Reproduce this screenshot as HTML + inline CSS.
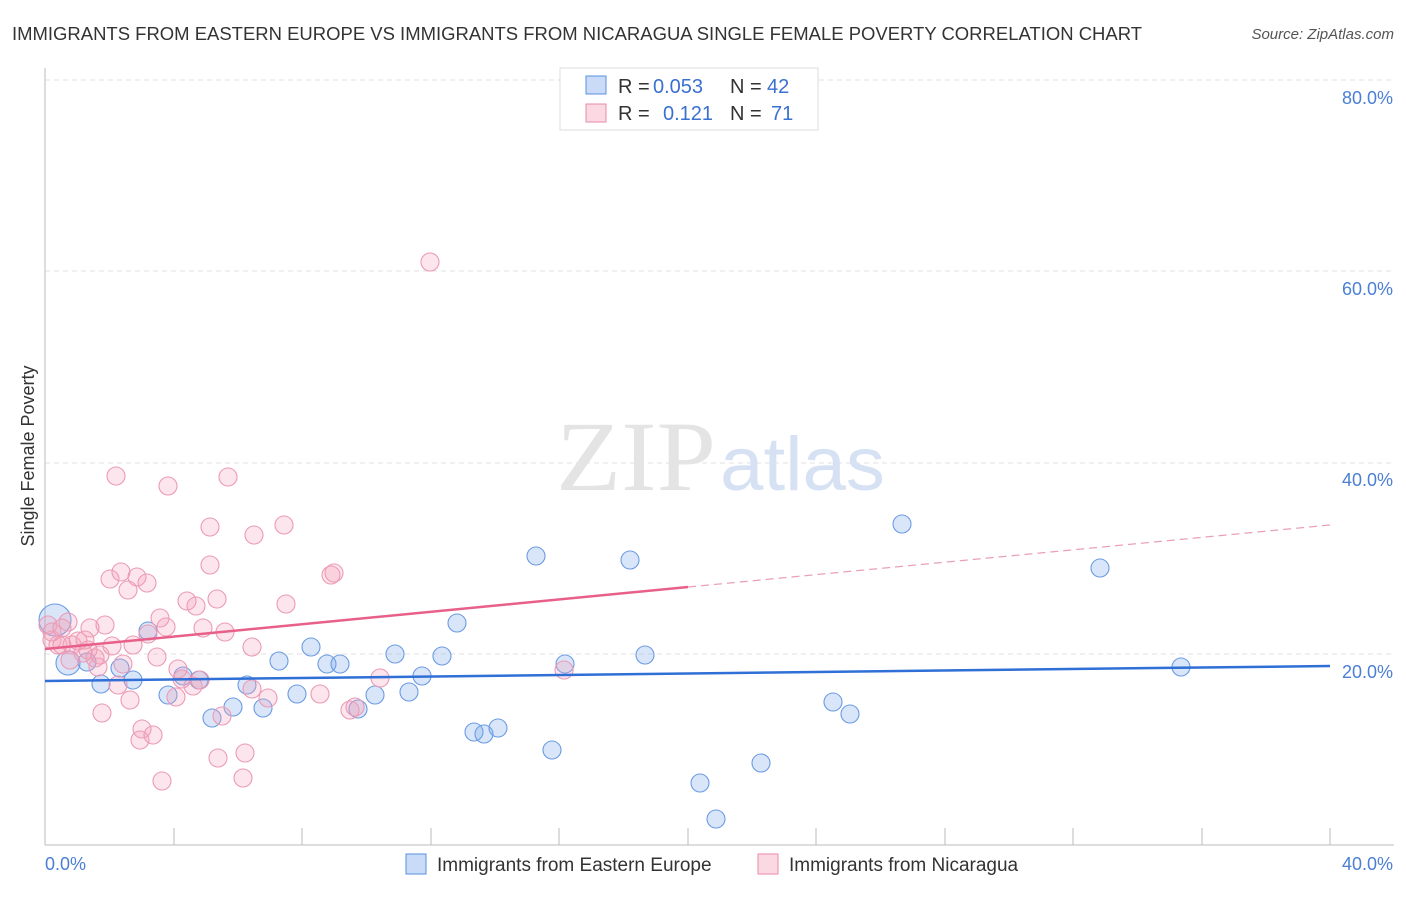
<!DOCTYPE html><html><head><style>body{margin:0;background:#fff;font-family:"Liberation Sans",sans-serif}</style></head><body>
<svg width="1406" height="892" xmlns="http://www.w3.org/2000/svg" font-family="Liberation Sans, sans-serif">
<text x="12" y="40" font-size="18" fill="#333" textLength="1130" lengthAdjust="spacingAndGlyphs">IMMIGRANTS FROM EASTERN EUROPE VS IMMIGRANTS FROM NICARAGUA SINGLE FEMALE POVERTY CORRELATION CHART</text>
<text x="1394" y="39" font-size="15" fill="#555" text-anchor="end" font-style="italic">Source: ZipAtlas.com</text>
<g stroke="#e2e2e2" stroke-dasharray="5,4"><line x1="45" y1="80" x2="1394" y2="80"/><line x1="45" y1="271" x2="1394" y2="271"/><line x1="45" y1="463" x2="1394" y2="463"/><line x1="45" y1="654" x2="1394" y2="654"/></g>
<line x1="45" y1="68" x2="45" y2="845" stroke="#bbb"/><line x1="45" y1="845" x2="1394" y2="845" stroke="#bbb"/>
<g stroke="#bbb"><line x1="174" y1="828" x2="174" y2="845"/><line x1="302" y1="828" x2="302" y2="845"/><line x1="431" y1="828" x2="431" y2="845"/><line x1="559" y1="828" x2="559" y2="845"/><line x1="688" y1="828" x2="688" y2="845"/><line x1="816" y1="828" x2="816" y2="845"/><line x1="945" y1="828" x2="945" y2="845"/><line x1="1073" y1="828" x2="1073" y2="845"/><line x1="1202" y1="828" x2="1202" y2="845"/><line x1="1330" y1="828" x2="1330" y2="845"/></g>
<g font-size="18" fill="#4a7fd4" text-anchor="end"><text x="1393" y="104">80.0%</text><text x="1393" y="295">60.0%</text><text x="1393" y="486">40.0%</text><text x="1393" y="678">20.0%</text><text x="1393" y="870">40.0%</text></g>
<text x="45" y="870" font-size="18" fill="#4a7fd4">0.0%</text>
<text x="34" y="456" font-size="18" fill="#333" transform="rotate(-90 34 456)" text-anchor="middle">Single Female Poverty</text>
<text x="716" y="490" font-size="100" fill="#e4e4e4" text-anchor="end" font-family="Liberation Serif, serif" textLength="160" lengthAdjust="spacingAndGlyphs">ZIP</text><text x="720" y="490" font-size="76" fill="#d6e2f4" textLength="165" lengthAdjust="spacingAndGlyphs">atlas</text>
<g fill="rgba(120,165,235,0.28)" stroke="#6b9be3" stroke-width="1.1">
<circle cx="55" cy="620" r="16"/><circle cx="68" cy="663" r="12"/><circle cx="87" cy="662" r="9"/><circle cx="101" cy="684" r="9"/><circle cx="120" cy="668" r="9"/><circle cx="133" cy="680" r="9"/><circle cx="148" cy="631" r="9"/><circle cx="168" cy="695" r="9"/><circle cx="183" cy="676" r="9"/><circle cx="199" cy="680" r="9"/><circle cx="212" cy="718" r="9"/><circle cx="233" cy="707" r="9"/><circle cx="247" cy="685" r="9"/><circle cx="263" cy="708" r="9"/><circle cx="279" cy="661" r="9"/><circle cx="297" cy="694" r="9"/><circle cx="311" cy="647" r="9"/><circle cx="327" cy="664" r="9"/><circle cx="340" cy="664" r="9"/><circle cx="358" cy="709" r="9"/><circle cx="375" cy="695" r="9"/><circle cx="395" cy="654" r="9"/><circle cx="409" cy="692" r="9"/><circle cx="422" cy="676" r="9"/><circle cx="442" cy="656" r="9"/><circle cx="457" cy="623" r="9"/><circle cx="474" cy="732" r="9"/><circle cx="484" cy="734" r="9"/><circle cx="498" cy="728" r="9"/><circle cx="536" cy="556" r="9"/><circle cx="552" cy="750" r="9"/><circle cx="565" cy="664" r="9"/><circle cx="630" cy="560" r="9"/><circle cx="645" cy="655" r="9"/><circle cx="700" cy="783" r="9"/><circle cx="716" cy="819" r="9"/><circle cx="761" cy="763" r="9"/><circle cx="833" cy="702" r="9"/><circle cx="850" cy="714" r="9"/><circle cx="902" cy="524" r="9"/><circle cx="1100" cy="568" r="9"/><circle cx="1181" cy="667" r="9"/>
</g>
<g fill="rgba(245,160,185,0.28)" stroke="#ec9ab5" stroke-width="1.1">
<circle cx="48" cy="625" r="9"/><circle cx="52" cy="640" r="9"/><circle cx="58" cy="645" r="9"/><circle cx="62" cy="645" r="9"/><circle cx="68" cy="622" r="9"/><circle cx="72" cy="645" r="9"/><circle cx="78" cy="641" r="9"/><circle cx="83" cy="653" r="9"/><circle cx="88" cy="650" r="9"/><circle cx="95" cy="658" r="9"/><circle cx="98" cy="667" r="9"/><circle cx="105" cy="625" r="9"/><circle cx="102" cy="713" r="9"/><circle cx="112" cy="646" r="9"/><circle cx="118" cy="685" r="9"/><circle cx="123" cy="664" r="9"/><circle cx="130" cy="700" r="9"/><circle cx="110" cy="579" r="9"/><circle cx="121" cy="572" r="9"/><circle cx="128" cy="590" r="9"/><circle cx="137" cy="577" r="9"/><circle cx="147" cy="583" r="9"/><circle cx="116" cy="476" r="9"/><circle cx="168" cy="486" r="9"/><circle cx="228" cy="477" r="9"/><circle cx="210" cy="527" r="9"/><circle cx="254" cy="535" r="9"/><circle cx="284" cy="525" r="9"/><circle cx="210" cy="565" r="9"/><circle cx="331" cy="575" r="9"/><circle cx="334" cy="573" r="9"/><circle cx="187" cy="601" r="9"/><circle cx="196" cy="606" r="9"/><circle cx="217" cy="599" r="9"/><circle cx="286" cy="604" r="9"/><circle cx="160" cy="618" r="9"/><circle cx="166" cy="627" r="9"/><circle cx="203" cy="628" r="9"/><circle cx="225" cy="632" r="9"/><circle cx="157" cy="657" r="9"/><circle cx="133" cy="645" r="9"/><circle cx="148" cy="634" r="9"/><circle cx="178" cy="669" r="9"/><circle cx="182" cy="679" r="9"/><circle cx="176" cy="697" r="9"/><circle cx="193" cy="686" r="9"/><circle cx="200" cy="680" r="9"/><circle cx="252" cy="647" r="9"/><circle cx="222" cy="716" r="9"/><circle cx="252" cy="689" r="9"/><circle cx="268" cy="698" r="9"/><circle cx="320" cy="694" r="9"/><circle cx="350" cy="710" r="9"/><circle cx="355" cy="707" r="9"/><circle cx="380" cy="678" r="9"/><circle cx="142" cy="729" r="9"/><circle cx="140" cy="740" r="9"/><circle cx="153" cy="735" r="9"/><circle cx="162" cy="781" r="9"/><circle cx="218" cy="758" r="9"/><circle cx="245" cy="753" r="9"/><circle cx="243" cy="778" r="9"/><circle cx="430" cy="262" r="9"/><circle cx="564" cy="670" r="9"/><circle cx="52" cy="632" r="9"/><circle cx="62" cy="628" r="9"/><circle cx="70" cy="660" r="9"/><circle cx="90" cy="628" r="9"/><circle cx="100" cy="655" r="9"/><circle cx="85" cy="640" r="9"/>
</g>
<line x1="45" y1="681" x2="1330" y2="666" stroke="#2f6fd6" stroke-width="2.5"/>
<line x1="45" y1="649" x2="688" y2="587" stroke="#e8608a" stroke-width="2.5"/>
<line x1="688" y1="587" x2="1330" y2="525" stroke="#e8a0b8" stroke-width="1.2" stroke-dasharray="8,5"/>
<rect x="560" y="68" width="258" height="62" fill="#fff" stroke="#ddd"/>
<rect x="586" y="76" width="20" height="18" fill="rgba(120,165,235,0.4)" stroke="#5a8fe0"/>
<rect x="586" y="104" width="20" height="18" fill="rgba(245,160,185,0.4)" stroke="#e88aa8"/>
<g font-size="20"><text x="618" y="93" fill="#333">R =</text><text x="653" y="93" fill="#3a70d0">0.053</text><text x="730" y="93" fill="#333">N =</text><text x="767" y="93" fill="#3a70d0">42</text>
<text x="618" y="120" fill="#333">R =</text><text x="663" y="120" fill="#3a70d0">0.121</text><text x="730" y="120" fill="#333">N =</text><text x="771" y="120" fill="#3a70d0">71</text></g>
<rect x="406" y="854" width="20" height="20" fill="rgba(120,165,235,0.4)" stroke="#5a8fe0"/>
<text x="437" y="871" font-size="19" fill="#333">Immigrants from Eastern Europe</text>
<rect x="758" y="854" width="20" height="20" fill="rgba(245,160,185,0.4)" stroke="#e88aa8"/>
<text x="789" y="871" font-size="19" fill="#333">Immigrants from Nicaragua</text>
</svg></body></html>
